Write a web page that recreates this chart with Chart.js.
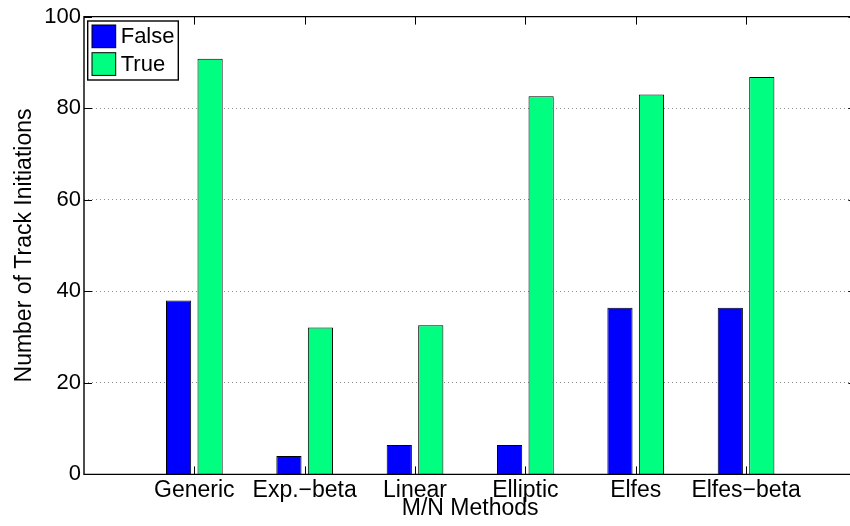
<!DOCTYPE html>
<html><head><meta charset="utf-8">
<script src="https://cdn.jsdelivr.net/npm/chart.js@4.4.0/dist/chart.umd.min.js"></script>
<style>
html,body{margin:0;padding:0;background:#fff;overflow:hidden;width:850px;height:526px}
#clip{width:850px;height:526px;overflow:hidden;position:relative}
#wrap{width:870px;height:526px;position:absolute;left:0;top:0}
</style></head>
<body><div id="clip"><div id="wrap"><canvas id="c" width="870" height="526"></canvas></div></div>
<script>
const categories = ['Generic', 'Exp.\u2212beta', 'Linear', 'Elliptic', 'Elfes', 'Elfes\u2212beta'];
const falseValues = [38.0, 4.0, 6.4, 6.4, 36.4, 36.4];
const trueValues  = [90.8, 32.1, 32.6, 82.6, 83.0, 86.8];
const seriesNames = ['False', 'True'];
const seriesColors = ['#0000FF', '#00FF80'];
const yTickValues = [0, 20, 40, 60, 80, 100];

const FONT = '"Liberation Sans", Arial, Helvetica, sans-serif';

const toPoints = vals => vals.map((v, i) => ({x: i + 1, y: v}));

const framePlugin = {
  id: 'frame',
  afterDatasetsDraw(chart) {
    const {ctx, chartArea: a, scales: {x, y}} = chart;
    ctx.save();
    ctx.strokeStyle = '#000';
    ctx.lineWidth = 1;
    ctx.beginPath();
    x.ticks.forEach(t => {
      const px = Math.round(x.getPixelForValue(t.value)) + 0.5;
      ctx.moveTo(px, a.bottom); ctx.lineTo(px, a.bottom - 8);
      ctx.moveTo(px, a.top); ctx.lineTo(px, a.top + 8);
    });
    y.ticks.forEach(t => {
      const py = Math.round(y.getPixelForValue(t.value)) + 0.5;
      ctx.moveTo(a.left, py); ctx.lineTo(a.left + 8, py);
      ctx.moveTo(a.right, py); ctx.lineTo(a.right - 8, py);
    });
    ctx.stroke();
    // axes box: left, top, bottom (right edge lies outside the visible window)
    ctx.lineWidth = 1.4;
    ctx.beginPath();
    ctx.moveTo(a.right, a.top); ctx.lineTo(a.left, a.top);
    ctx.lineTo(a.left, a.bottom); ctx.lineTo(a.right, a.bottom);
    ctx.stroke();

    // legend
    const lx = a.left + 3.7, ly = a.top + 4.4, lw = 90.6, lh = 59;
    ctx.fillStyle = '#fff';
    ctx.fillRect(lx, ly, lw, lh);
    ctx.lineWidth = 1.4;
    ctx.strokeRect(lx, ly, lw, lh);
    ctx.font = '22px ' + FONT;
    ctx.textBaseline = 'middle';
    ctx.textAlign = 'left';
    chart.data.datasets.forEach((ds, i) => {
      const sx = lx + 4.3, sy = ly + 4 + i * 27.7, sw = 23.7, sh = 22.7;
      ctx.fillStyle = ds.backgroundColor;
      ctx.fillRect(sx, sy, sw, sh);
      ctx.lineWidth = 1;
      ctx.strokeStyle = '#000';
      ctx.strokeRect(sx, sy, sw, sh);
      ctx.fillStyle = '#000';
      ctx.fillText(ds.label, sx + sw + 5, sy + sh / 2 + 1);
    });
    ctx.restore();
  }
};

new Chart(document.getElementById('c'), {
  type: 'bar',
  data: {
    datasets: [
      {label: seriesNames[0], data: toPoints(falseValues), backgroundColor: seriesColors[0], borderColor: '#000', borderWidth: 1},
      {label: seriesNames[1], data: toPoints(trueValues), backgroundColor: seriesColors[1], borderColor: '#000', borderWidth: 1}
    ]
  },
  options: {
    responsive: false,
    animation: false,
    categoryPercentage: 0.571,
    barPercentage: 0.8,
    layout: {padding: {left: 0, top: 16.6, right: 13.6, bottom: 0}},
    plugins: {legend: {display: false}, tooltip: {enabled: false}},
    scales: {
      x: {
        type: 'linear',
        offset: false,
        min: 0, max: 7,
        afterBuildTicks: s => { s.ticks = categories.map((c, i) => ({value: i + 1})); },
        afterFit: s => { s.height = 51.6; },
        grid: {display: false, drawTicks: false, offset: false},
        border: {display: false},
        ticks: {
          color: '#000', padding: 2, maxRotation: 0, autoSkip: false,
          font: {family: FONT, size: 23},
          callback: v => categories[v - 1] ?? ''
        },
        title: {display: true, text: 'M/N Methods', color: '#000', font: {family: FONT, size: 23}, padding: {top: 0, bottom: 3.5}}
      },
      y: {
        min: 0, max: 100,
        afterBuildTicks: s => { s.ticks = yTickValues.map(v => ({value: v})); },
        afterFit: s => { s.width = 84; },
        grid: {
          drawTicks: false,
          color: c => (c.tick && (c.tick.value === 0 || c.tick.value === 100)) ? 'rgba(0,0,0,0)' : 'rgba(0,0,0,0.45)',
          lineWidth: 1
        },
        border: {display: false, dash: [1, 3]},
        ticks: {color: '#000', padding: 3, font: {family: FONT, size: 22}},
        title: {display: true, text: 'Number of Track Initiations', color: '#000', font: {family: FONT, size: 23}, padding: {top: 11, bottom: 0}}
      }
    }
  },
  plugins: [framePlugin]
});
</script>
</body></html>
